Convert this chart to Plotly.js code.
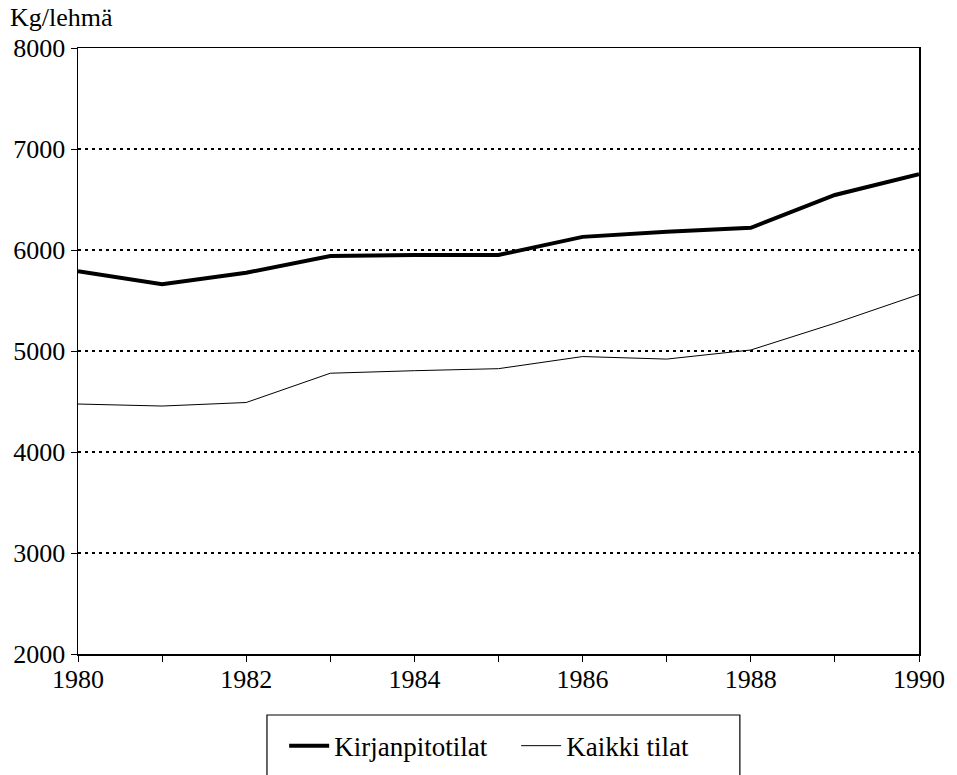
<!DOCTYPE html>
<html>
<head>
<meta charset="utf-8">
<script src="https://cdn.plot.ly/plotly-3.0.1.min.js"></script>
<style>html,body{margin:0;padding:0;background:#fff;}#chart{width:957px;height:775px;}</style>
</head>
<body>
<div id="chart"></div>
<script>
const years = [1980, 1981, 1982, 1983, 1984, 1985, 1986, 1987, 1988, 1989, 1990];
const kirjanpitotilat = [5790, 5660, 5775, 5940, 5950, 5950, 6130, 6180, 6220, 6545, 6750];
const kaikkiTilat = [4475, 4455, 4490, 4780, 4805, 4825, 4945, 4920, 5010, 5275, 5560];
const seriesNames = ["Kirjanpitotilat", "Kaikki tilat"];
const yTickVals = [2000, 3000, 4000, 5000, 6000, 7000, 8000];
const xTickVals = [1980, 1982, 1984, 1986, 1988, 1990];
const yUnit = "Kg/lehmä";

const FONT = "Liberation Serif";

const traces = [
  {x: years, y: kirjanpitotilat, name: seriesNames[0], type: "scatter", mode: "lines",
   line: {color: "#000", width: 4}},
  {x: years, y: kaikkiTilat, name: seriesNames[1], type: "scatter", mode: "lines",
   line: {color: "#000", width: 1}}
];

const layout = {
  width: 957, height: 775,
  margin: {l: 78, r: 38, t: 48, b: 121, autoexpand: false},
  paper_bgcolor: "#fff", plot_bgcolor: "#fff",
  font: {family: FONT, size: 26, color: "#000"},
  showlegend: true,
  legend: {orientation: "h", x: 0.521, xanchor: "center", y: -0.152, yanchor: "middle",
           font: {family: FONT, size: 27, color: "#000"}, bgcolor: "rgba(0,0,0,0)",
           itemwidth: 40, tracegroupgap: 0, entrywidth: 177, entrywidthmode: "pixels"},
  xaxis: {range: [1980, 1990], tickvals: xTickVals, ticktext: xTickVals.map(String),
          ticks: "outside", ticklen: 6, tickwidth: 1, tickcolor: "#000", ticklabelstandoff: -5,
          minor: {dtick: 1, tick0: 1980, ticks: "outside", ticklen: 6, tickwidth: 1, tickcolor: "#000", showgrid: false},
          showline: true, linecolor: "#000", linewidth: 1.5, mirror: true,
          showgrid: false, zeroline: false, tickfont: {family: FONT, size: 26}},
  yaxis: {range: [2000, 8000], tickvals: yTickVals, ticktext: yTickVals.map(String),
          ticks: "outside", ticklen: 6, tickwidth: 1, tickcolor: "#000",
          showline: true, linecolor: "#000", linewidth: 1.5, mirror: true,
          showgrid: true, gridcolor: "#000", gridwidth: 1.2, griddash: "3px,4px",
          zeroline: false, tickfont: {family: FONT, size: 26}},
  annotations: [
    {text: yUnit, xref: "paper", yref: "paper", x: -0.083, y: 1.05, xanchor: "left", yanchor: "middle",
     showarrow: false, font: {family: FONT, size: 26, color: "#000"}}
  ],
  shapes: [
    {type: "rect", xref: "paper", yref: "paper", x0: 0.2247, x1: 0.787, y0: -0.1007, y1: -0.21,
     line: {color: "#000", width: 1.2}, fillcolor: "rgba(0,0,0,0)"}
  ]
};

Plotly.newPlot("chart", traces, layout, {displayModeBar: false, staticPlot: true});
</script>
</body>
</html>
